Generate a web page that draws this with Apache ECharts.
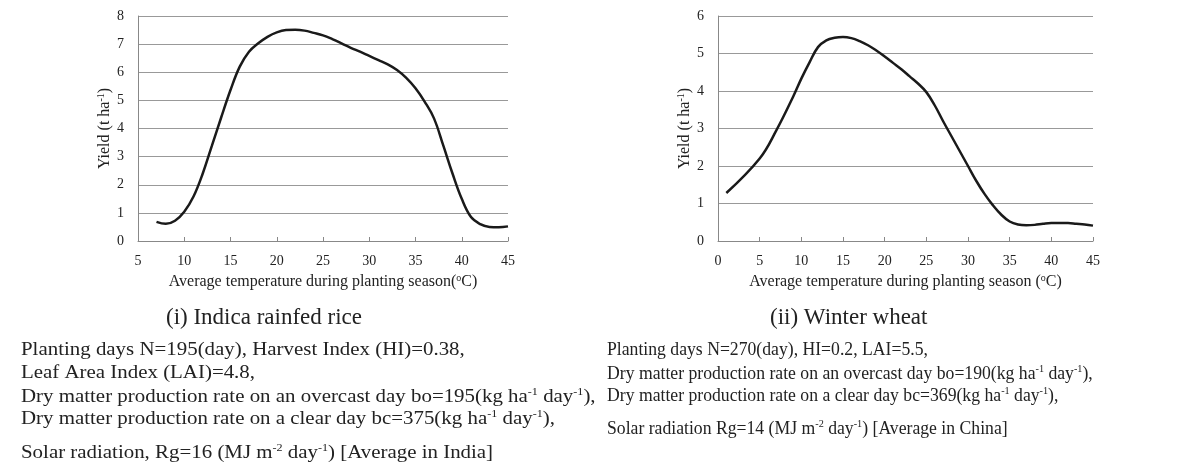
<!DOCTYPE html>
<html><head><meta charset="utf-8">
<script src="https://cdn.jsdelivr.net/npm/echarts@6/dist/echarts.min.js"></script>
<style>html,body{margin:0;padding:0;background:#fff}#c{width:1192px;height:464px}</style>
</head><body><div id="c"></div>
<script>
// Data
const riceTemps = [7,8,9,10,11,12,13,14,15,16,17,18,19,20,21,22,23,24,25,26,27,28,29,30,31,32,33,34,35,36,37,38,39,40,41,42,43,44,45];
const riceYield = [0.68,0.61,0.72,1.04,1.58,2.4,3.4,4.4,5.37,6.2,6.73,7.03,7.26,7.42,7.5,7.51,7.48,7.4,7.31,7.18,7.03,6.87,6.73,6.58,6.43,6.28,6.08,5.8,5.43,4.95,4.36,3.4,2.4,1.5,0.85,0.6,0.5,0.49,0.52];
const wheatTemps = [1,5,7,9,10,11,12,13,14,15,16,17,18,19,20,21,22,23,24,25,26,27,28,29,30,31,32,33,34,35,36,37,38,39,40,41,42,43,44,45];
const wheatYield = [1.28,2.2,2.95,3.84,4.33,4.77,5.17,5.35,5.42,5.44,5.41,5.33,5.22,5.08,4.92,4.75,4.58,4.39,4.2,3.97,3.62,3.2,2.8,2.4,2.0,1.6,1.25,0.95,0.7,0.52,0.44,0.42,0.43,0.46,0.48,0.48,0.48,0.46,0.44,0.41];
const xTitle1 = 'Average temperature during planting season({sup|o}C)';
const xTitle2 = 'Average temperature during planting season ({sup|o}C)';
const yTitle = 'Yield (t ha{sup|-1})';
const caption1 = '(i) Indica rainfed rice';
const caption2 = '(ii) Winter wheat';
const notes1 = [
  'Planting days N=195(day), Harvest Index (HI)=0.38,',
  'Leaf Area Index (LAI)=4.8,',
  'Dry matter production rate on an overcast day bo=195(kg ha{sup|-1} day{sup|-1}),',
  'Dry matter production rate on a clear day bc=375(kg ha{sup|-1} day{sup|-1}),',
  'Solar radiation, Rg=16 (MJ m{sup|-2} day{sup|-1}) [Average in India]'
];
const notes2 = [
  'Planting days N=270(day), HI=0.2, LAI=5.5,',
  'Dry matter production rate on an overcast day bo=190(kg ha{sup|-1} day{sup|-1}),',
  'Dry matter production rate on a clear day bc=369(kg ha{sup|-1} day{sup|-1}),',
  'Solar radiation Rg=14 (MJ m{sup|-2} day{sup|-1}) [Average in China]'
];

const FONT = 'Liberation Serif';
const chart = echarts.init(document.getElementById('c'));
const supRich = {sup: {fontSize: 10, fontFamily: FONT, color: '#222', padding: [0,0,7,0]}};
function xAx(idx, min){
  return {gridIndex: idx, type: 'value', min: min, max: 45, interval: 5,
    name: idx===0 ? xTitle1 : xTitle2, nameLocation: 'middle', nameGap: 32,
    nameTextStyle: {fontFamily: FONT, fontSize: 16, color: '#222', rich: supRich},
    axisLine: {lineStyle: {color: '#888', width: 1}},
    axisTick: {show: true, inside: true, length: 4, lineStyle: {color: '#888'}},
    axisLabel: {fontFamily: FONT, fontSize: 14, color: '#222', margin: 13},
    splitLine: {show: false}};
}
function yAx(idx, max){
  return {gridIndex: idx, type: 'value', min: 0, max: max, interval: 1,
    name: yTitle, nameLocation: 'middle', nameGap: 22, nameRotate: 90,
    nameTextStyle: {fontFamily: FONT, fontSize: 16, color: '#222', rich: supRich},
    axisLine: {show: true, lineStyle: {color: '#888', width: 1}},
    axisTick: {show: false},
    axisLabel: {fontFamily: FONT, fontSize: 14, color: '#222', margin: 14},
    splitLine: {show: true, lineStyle: {color: '#999', width: 1}}};
}
const noteRich = {sup:{fontSize:11, fontFamily: FONT, fill:'#222', padding:[0,0,9,0]}};
const graphics = [];
graphics.push({type:'text', left: 166, top: 306, style:{text: caption1, fontFamily: FONT, fontSize: 23, fill:'#222'}});
graphics.push({type:'text', left: 770, top: 306, style:{text: caption2, fontFamily: FONT, fontSize: 23, fill:'#222'}});
const y1 = [341, 364, 387, 409, 443];
notes1.forEach((t,i)=>graphics.push({type:'text', x: 21, y: y1[i], scaleX: 1.1,
  style:{text: t, fontFamily: FONT, fontSize: 19, fill:'#222', align:'left', verticalAlign:'top', rich: noteRich}}));
const y2 = [341, 364, 386, 419];
notes2.forEach((t,i)=>graphics.push({type:'text', x: 607, y: y2[i], scaleX: 0.93,
  style:{text: t, fontFamily: FONT, fontSize: 19, fill:'#222', align:'left', verticalAlign:'top', rich: noteRich}}));

chart.setOption({
  animation: false,
  backgroundColor: '#fff',
  grid: [
    {left: 138, right: 684, top: 16, bottom: 223},
    {left: 718, right: 99, top: 16, bottom: 223}
  ],
  xAxis: [xAx(0, 5), xAx(1, 0)],
  yAxis: [yAx(0, 8), yAx(1, 6)],
  series: [
    {type: 'line', xAxisIndex: 0, yAxisIndex: 0, smooth: 0.4, showSymbol: false,
     lineStyle: {color: '#1a1a1a', width: 2.5},
     data: riceTemps.map((t,i)=>[t, riceYield[i]])},
    {type: 'line', xAxisIndex: 1, yAxisIndex: 1, smooth: 0.4, showSymbol: false,
     lineStyle: {color: '#1a1a1a', width: 2.5},
     data: wheatTemps.map((t,i)=>[t, wheatYield[i]])}
  ],
  graphic: graphics
});
</script></body></html>
